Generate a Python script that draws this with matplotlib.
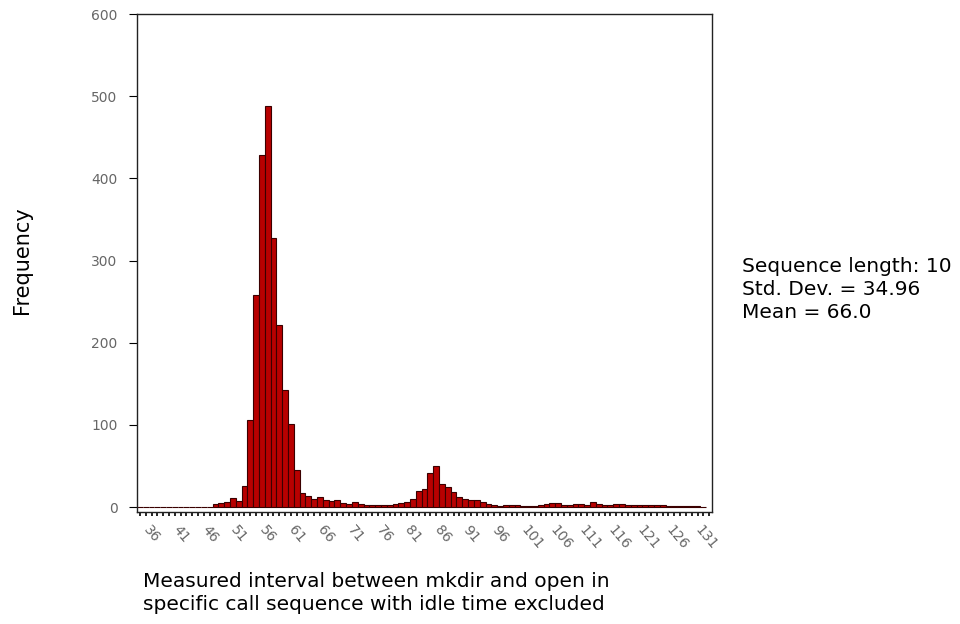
import numpy as np
import matplotlib
matplotlib.use('Agg')
import matplotlib.pyplot as plt
from matplotlib.ticker import MultipleLocator, FixedLocator

# interval bins (one bar per unit) and their frequencies
bins = list(range(34, 132))
counts = [0, 0, 0, 0, 0, 0, 0, 0, 0, 0, 0, 0, 0,           # 34-46
          4, 5, 6, 11, 7, 26, 106, 258, 428, 488,           # 47-56
          327, 222, 143, 101, 45, 17, 14, 10, 12, 9,        # 57-66
          7, 9, 5, 4, 6, 4, 3, 2, 2, 3,                     # 67-76
          3, 4, 5, 6, 10, 20, 22, 42, 50, 28,               # 77-86
          24, 18, 12, 10, 9, 8, 6, 4, 2, 1,                 # 87-96
          2, 3, 2, 1, 1, 1, 2, 4, 5, 5,                     # 97-106
          3, 3, 4, 4, 3, 6, 4, 2, 2, 4,                     # 107-116
          4, 2, 3, 2, 3, 3, 3, 2, 1, 1,                     # 117-126
          1, 1, 1, 1, 0]                                    # 127-131
xtick_labels = list(range(36, 132, 5))
yticks = [0, 100, 200, 300, 400, 500, 600]

stats_text = "Sequence length: 10\nStd. Dev. = 34.96\nMean = 66.0"
xlabel = "Measured interval between mkdir and open in\nspecific call sequence with idle time excluded"

fig = plt.figure(figsize=(9.6, 6.24), dpi=100)
ax = fig.add_axes([0.1427, 0.1795, 0.599, 0.798])

ax.bar(bins, counts, width=1.0, color='#b80000', edgecolor='#3a0000', linewidth=0.8)

ax.set_xlim(33.5, 132.5)
ax.set_ylim(-6, 600)

ax.xaxis.set_major_locator(FixedLocator(xtick_labels))
ax.xaxis.set_minor_locator(MultipleLocator(1))
ax.set_xticklabels([str(v) for v in xtick_labels], rotation=-50,
                   ha='left', va='top', rotation_mode='anchor',
                   fontsize=10, color='#666666')
ax.tick_params(axis='x', which='both', direction='out', length=3, width=1.2, pad=5)

ax.set_yticks(yticks)
ax.tick_params(axis='y', direction='out', length=6, labelsize=10,
               labelcolor='#666666', pad=8)

for s in ax.spines.values():
    s.set_color('#222222')
    s.set_linewidth(1.0)

fig.text(22 / 960, 1 - 260 / 624, 'Frequency', fontsize=15, rotation=90,
         ha='center', va='center')
fig.text(143 / 960, 1 - 572 / 624, xlabel, fontsize=14.5, ha='left', va='top',
         linespacing=1.3)
fig.text(742 / 960, 1 - 257 / 624, stats_text, fontsize=14.5, ha='left', va='top',
         linespacing=1.28)

fig.savefig('out.png', dpi=100)
